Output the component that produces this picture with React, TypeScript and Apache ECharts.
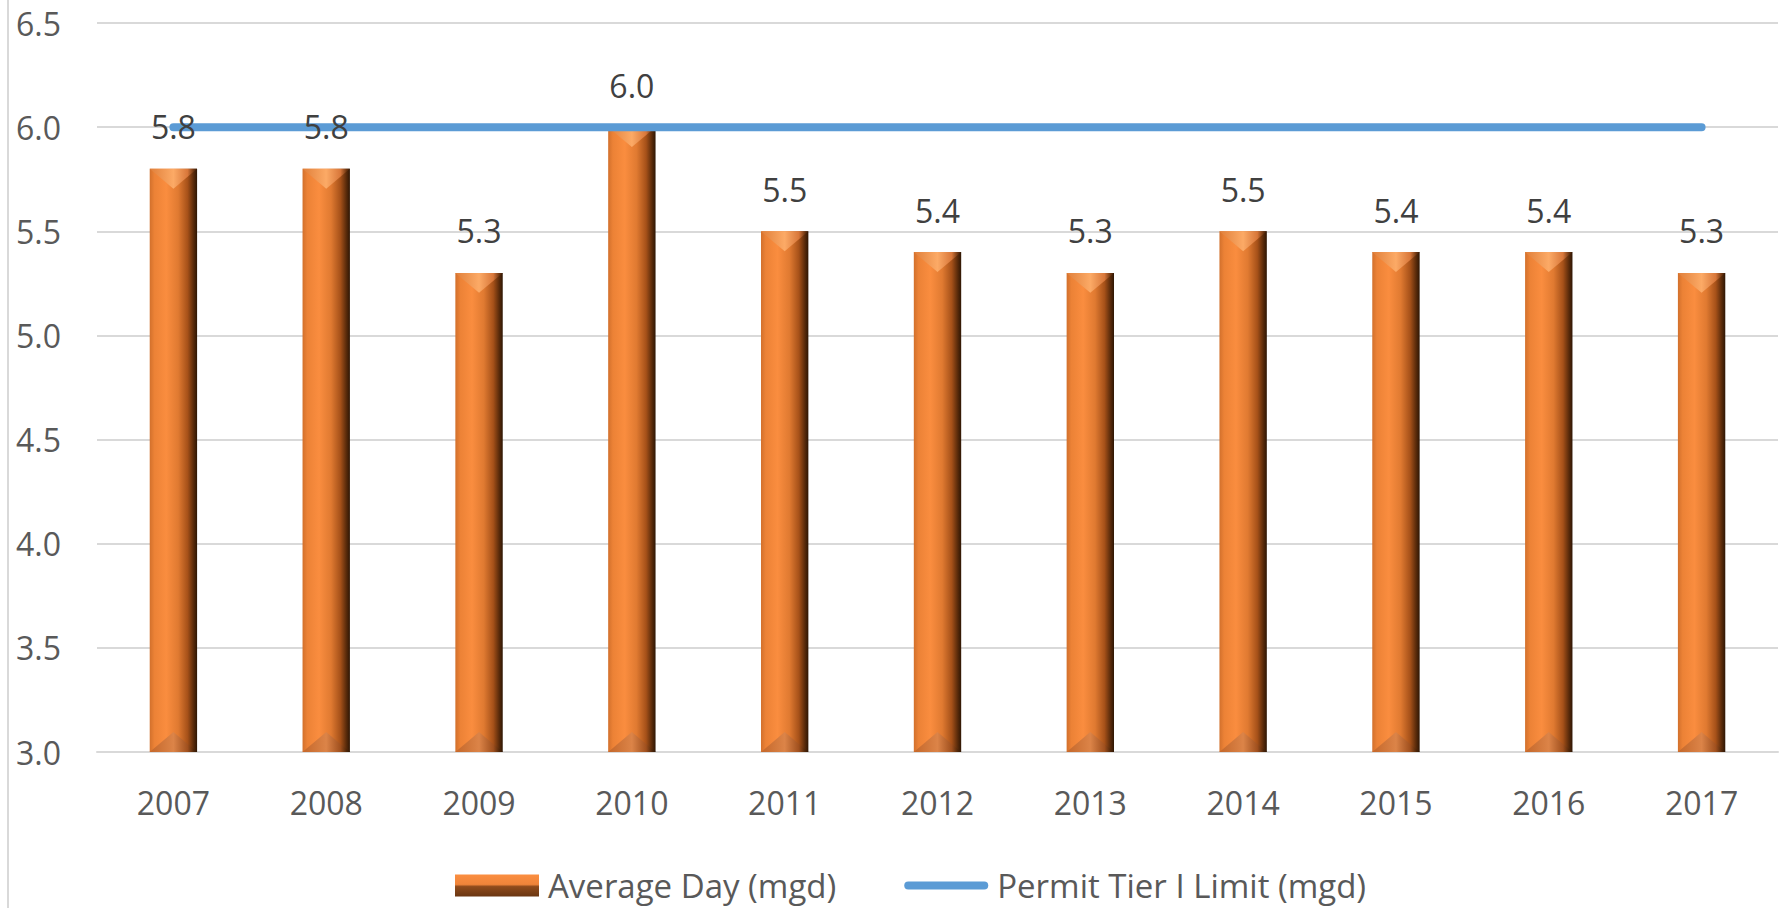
import React, { useEffect, useRef } from "react";
import * as echarts from "echarts";

const categories = ["2007", "2008", "2009", "2010", "2011", "2012", "2013", "2014", "2015", "2016", "2017"];
const averageDay = [5.8, 5.8, 5.3, 6.0, 5.5, 5.4, 5.3, 5.5, 5.4, 5.4, 5.3];
const permitLimit = [6.0, 6.0, 6.0, 6.0, 6.0, 6.0, 6.0, 6.0, 6.0, 6.0, 6.0];
const yMin = 3.0;
const yMax = 6.5;
const yInterval = 0.5;

const FONT = "'Open Sans', 'Liberation Sans', sans-serif";

function hGrad(stops: [number, string][]) {
  return new echarts.graphic.LinearGradient(0, 0, 1, 0, stops.map(([offset, color]) => ({ offset, color })));
}

export default function App() {
  const ref = useRef<HTMLDivElement>(null);
  useEffect(() => {
    document.body.style.margin = "0";
    if (!ref.current) return;
    const chart = echarts.init(ref.current, undefined, { renderer: "svg" });

    const renderBar = (params: any, api: any) => {
      const idx = api.value(0);
      const val = api.value(1);
      const top = api.coord([idx, val]);
      const base = api.coord([idx, yMin]);
      const bandW = api.size([1, 0])[0];
      const w = bandW * 0.31;
      const x0 = top[0] - w / 2;
      const x1 = top[0] + w / 2;
      const yT = top[1];
      const yB = base[1];
      const depth = Math.min(w * 0.42, (yB - yT) / 2);
      return {
        type: "group",
        children: [
          {
            type: "rect",
            shape: { x: x0, y: yT, width: w, height: yB - yT },
            style: {
              fill: hGrad([
                [0, "#d2702c"],
                [0.1, "#ec8236"],
                [0.35, "#fa8d3f"],
                [0.6, "#e07a31"],
                [0.8, "#a65119"],
                [0.93, "#56290a"],
                [1, "#2e1604"],
              ]),
            },
          },
          {
            type: "polygon",
            shape: { points: [[x0, yT], [x1, yT], [top[0], yT + depth]] },
            style: {
              fill: hGrad([
                [0, "#e07f3a"],
                [0.5, "#fcaa66"],
                [0.8, "#d8773a"],
                [0.93, "#6a3410"],
                [1, "#3a1c06"],
              ]),
            },
          },
          {
            type: "polygon",
            shape: { points: [[x0, yB], [x1, yB], [top[0], yB - depth]] },
            style: {
              fill: hGrad([
                [0, "#c4672a"],
                [0.5, "#dc8448"],
                [0.8, "#a0501e"],
                [0.93, "#4e2609"],
                [1, "#2e1604"],
              ]),
            },
          },
        ],
      };
    };

    const renderLabel = (params: any, api: any) => {
      const idx = api.value(0);
      const val = api.value(1);
      const top = api.coord([idx, val]);
      return {
        type: "text",
        x: top[0],
        y: top[1] - 26,
        style: {
          text: Number(val).toFixed(1),
          fill: "#404040",
          font: `32px ${FONT}`,
          align: "center",
          verticalAlign: "bottom",
        },
      };
    };

    const barData = averageDay.map((v, i) => [i, v]);

    chart.setOption({
      animation: false,
      backgroundColor: "#ffffff",
      grid: { left: 97, right: 3, top: 23, bottom: 156, containLabel: false },
      xAxis: {
        type: "category",
        data: categories,
        axisLine: { show: true, lineStyle: { color: "#d9d9d9", width: 2 } },
        axisTick: { show: false },
        axisLabel: { color: "#595959", fontSize: 32, fontFamily: FONT, margin: 34 },
      },
      yAxis: {
        type: "value",
        min: yMin,
        max: yMax,
        interval: yInterval,
        axisLine: { show: false },
        axisTick: { show: false },
        axisLabel: {
          color: "#595959",
          fontSize: 32,
          fontFamily: FONT,
          margin: 36,
          formatter: (v: number) => v.toFixed(1),
        },
        splitLine: { lineStyle: { color: "#d9d9d9", width: 2 } },
      },
      legend: {
        left: 450,
        top: 864,
        itemWidth: 84,
        itemHeight: 22,
        itemGap: 68,
        textStyle: { color: "#595959", fontSize: 33, fontFamily: FONT, padding: [0, 0, 0, 4] },
        data: [
          {
            name: "Average Day (mgd)",
            icon: "rect",
            itemStyle: {
              color: new echarts.graphic.LinearGradient(0, 0, 0, 1, [
                { offset: 0, color: "#fb8e40" },
                { offset: 0.45, color: "#ef843a" },
                { offset: 0.55, color: "#8f4b1c" },
                { offset: 1, color: "#6a3612" },
              ]),
            },
          },
          {
            name: "Permit Tier I Limit (mgd)",
            icon: "path://M4,0 L80,0 A4,4 0 0 1 80,8 L4,8 A4,4 0 0 1 4,0 Z",
            itemStyle: { color: "#5b9bd5", borderWidth: 0 },
          },
        ],
      },
      graphic: [
        {
          type: "line",
          shape: { x1: 8, y1: 0, x2: 8, y2: 908 },
          style: { stroke: "#d9d9d9", lineWidth: 2 },
          silent: true,
        },
      ],
      series: [
        {
          name: "Average Day (mgd)",
          type: "custom",
          renderItem: renderBar,
          data: barData,
          encode: { x: 0, y: 1 },
          itemStyle: { color: "#f58b3c" },
          z: 2,
        },
        {
          name: "Permit Tier I Limit (mgd)",
          type: "line",
          data: permitLimit,
          symbol: "none",
          showSymbol: false,
          lineStyle: { color: "#5b9bd5", width: 8, cap: "round" },
          itemStyle: { color: "#5b9bd5" },
          z: 3,
        },
        {
          name: "labels",
          type: "custom",
          renderItem: renderLabel,
          data: barData,
          encode: { x: 0, y: 1 },
          z: 5,
          silent: true,
        },
      ],
    });
    return () => chart.dispose();
  }, []);
  return <div ref={ref} style={{ width: 1781, height: 908 }} />;
}
